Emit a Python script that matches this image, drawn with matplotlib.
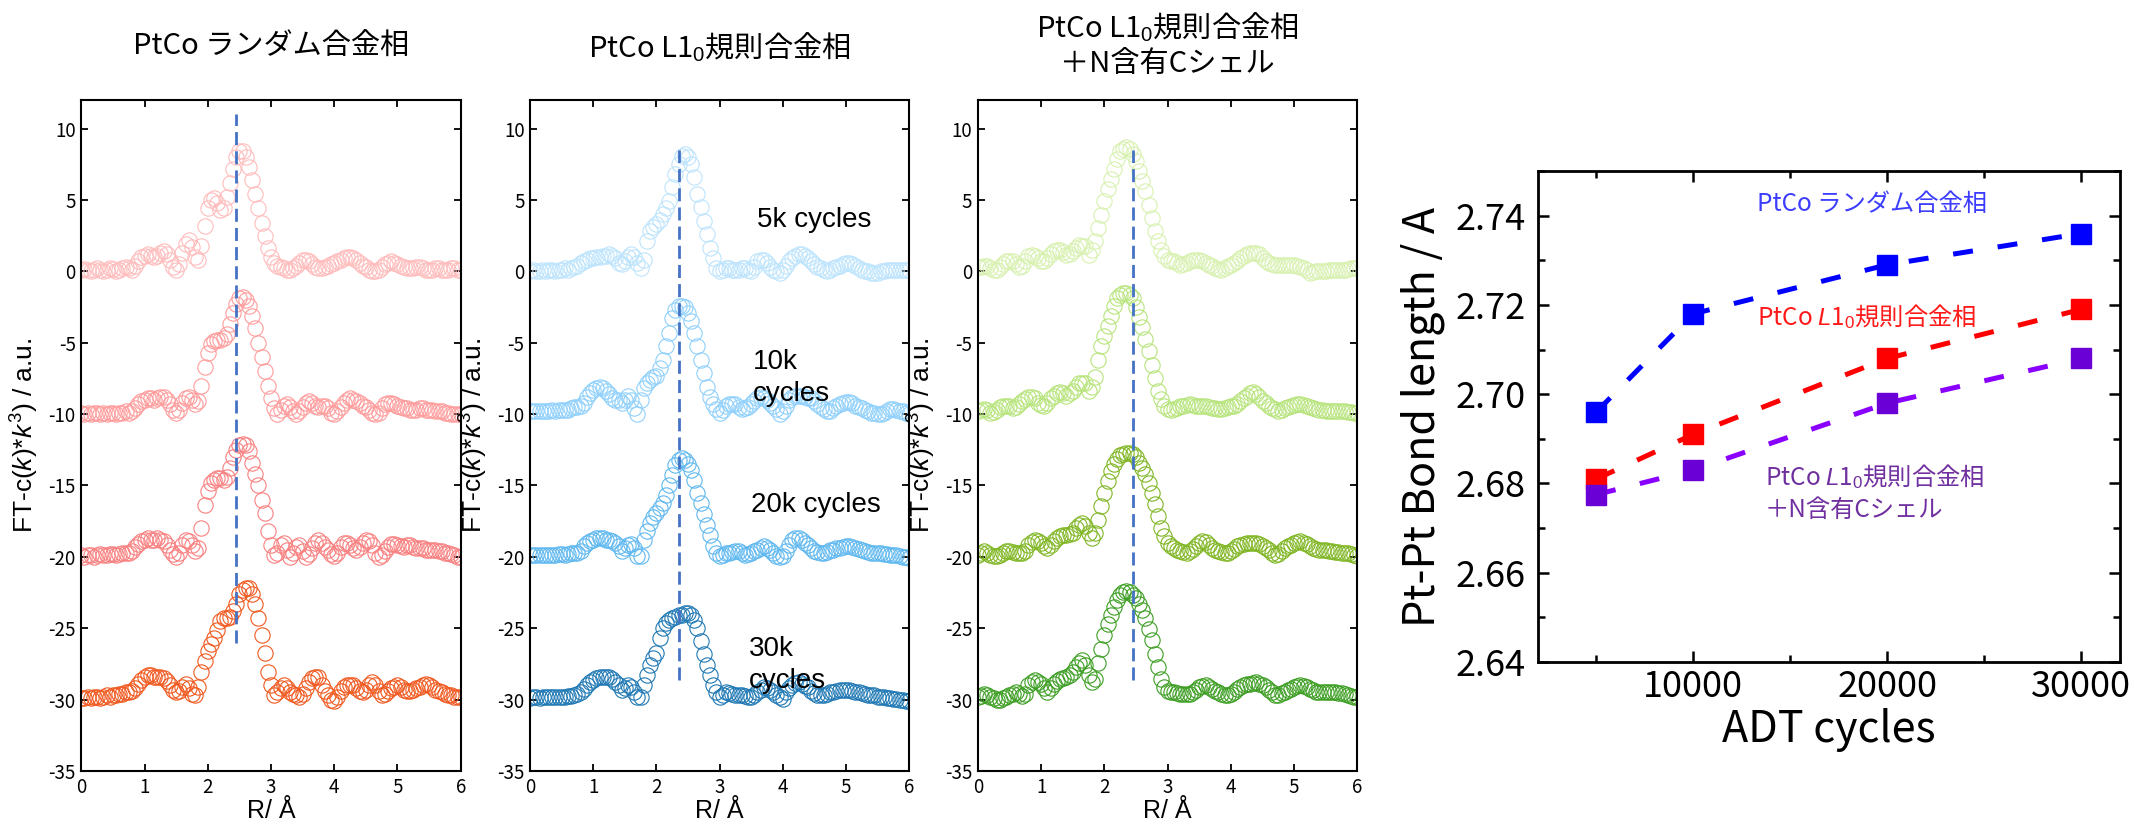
import numpy as np
import matplotlib
matplotlib.use("Agg")
import matplotlib.pyplot as plt
from matplotlib.ticker import MultipleLocator, FormatStrFormatter

plt.rcParams['font.family'] = ['Noto Sans CJK JP', 'DejaVu Sans']
plt.rcParams['mathtext.fontset'] = 'custom'
plt.rcParams['mathtext.rm'] = 'Liberation Sans'
plt.rcParams['mathtext.it'] = 'Liberation Sans:italic'
plt.rcParams['axes.unicode_minus'] = False

# ---------------------------------------------------------------
# FT-EXAFS magnitudes, R from 0 to 6 A in 0.05 A steps
# one row per 0.5 A, last value is R = 6.0
# ---------------------------------------------------------------
r = np.round(np.arange(121) * 0.05, 2)
offsets = [0, -10, -20, -30]
cycle_labels = ["5k cycles", "10k\ncycles", "20k cycles", "30k\ncycles"]

# PtCo random alloy
random_5k = [
    0.1, 0.15, 0.1, 0.0, 0.1, 0.2, 0.1, 0.0, 0.1, 0.2,
    0.15, 0.0, 0.1, 0.2, 0.3, 0.2, 0.1, 0.4, 0.7, 1.0,
    1.1, 1.2, 1.1, 1.0, 1.1, 1.3, 1.4, 1.2, 0.8, 0.3,
    0.1, 0.5, 1.3, 1.9, 2.2, 1.7, 1.0, 0.8, 1.8, 3.2,
    4.4, 5.0, 5.1, 4.8, 4.3, 4.4, 5.2, 6.2, 7.2, 8.0,
    8.4, 8.4, 8.0, 7.3, 6.4, 5.4, 4.4, 3.4, 2.5, 1.6,
    1.0, 0.6, 0.4, 0.3, 0.2, 0.1, 0.1, 0.2, 0.4, 0.6,
    0.8, 0.8, 0.7, 0.5, 0.3, 0.2, 0.2, 0.3, 0.4, 0.5,
    0.6, 0.7, 0.8, 0.9, 1.0, 1.0, 0.9, 0.8, 0.6, 0.4,
    0.3, 0.1, 0.0, 0.0, 0.1, 0.3, 0.5, 0.6, 0.7, 0.6,
    0.5, 0.4, 0.3, 0.2, 0.2, 0.2, 0.3, 0.3, 0.2, 0.1,
    0.1, 0.1, 0.2, 0.2, 0.1, 0.1, 0.1, 0.2, 0.2, 0.1,
    0.1]
random_10k = [
    0.1, 0.0, 0.1, 0.0, 0.1, 0.1, 0.0, 0.1, 0.0, 0.1,
    0.1, 0.0, 0.1, 0.1, 0.2, 0.1, 0.2, 0.4, 0.7, 0.9,
    1.0, 1.1, 1.1, 1.0, 1.1, 1.2, 1.2, 1.0, 0.7, 0.3,
    0.1, 0.3, 0.8, 1.1, 1.2, 1.0, 0.7, 0.9, 2.0, 3.3,
    4.3, 4.9, 5.1, 5.2, 5.2, 5.3, 5.6, 6.3, 7.1, 7.7,
    8.1, 8.2, 8.0, 7.6, 6.9, 6.0, 5.0, 4.0, 3.0, 2.0,
    1.1, 0.4, 0.0, 0.3, 0.6, 0.7, 0.5, 0.2, 0.0, 0.2,
    0.5, 0.8, 0.9, 0.8, 0.6, 0.5, 0.6, 0.6, 0.4, 0.1,
    0.0, 0.2, 0.5, 0.8, 1.0, 1.1, 1.0, 0.9, 0.8, 0.6,
    0.5, 0.3, 0.1, 0.0, 0.1, 0.4, 0.7, 0.8, 0.8, 0.7,
    0.6, 0.5, 0.4, 0.4, 0.3, 0.3, 0.3, 0.4, 0.4, 0.3,
    0.3, 0.3, 0.2, 0.2, 0.2, 0.1, 0.1, 0.0, 0.0, 0.0,
    0.0]
random_20k = [
    0.1, 0.0, 0.1, 0.1, 0.0, 0.1, 0.2, 0.1, 0.1, 0.2,
    0.2, 0.1, 0.2, 0.3, 0.3, 0.3, 0.4, 0.7, 0.9, 1.1,
    1.2, 1.3, 1.2, 1.2, 1.3, 1.2, 1.1, 0.8, 0.5, 0.2,
    0.0, 0.3, 0.8, 1.2, 1.1, 0.8, 0.4, 0.6, 2.0, 3.6,
    4.6, 5.2, 5.4, 5.5, 5.5, 5.4, 5.6, 6.2, 7.0, 7.5,
    7.8, 7.9, 7.8, 7.4, 6.6, 5.8, 5.0, 4.0, 3.1, 1.8,
    0.8, 0.1, 0.3, 0.8, 1.0, 0.5, 0.0, 0.3, 0.7, 0.8,
    0.4, 0.0, 0.2, 0.6, 1.0, 1.2, 1.0, 0.7, 0.5, 0.2,
    0.05, 0.3, 0.7, 1.0, 1.0, 0.8, 0.6, 0.5, 0.7, 1.0,
    1.2, 1.1, 0.8, 0.3, 0.0, 0.1, 0.4, 0.7, 0.9, 0.9,
    0.8, 0.75, 0.7, 0.8, 0.8, 0.7, 0.6, 0.6, 0.6, 0.5,
    0.5, 0.5, 0.5, 0.4, 0.4, 0.3, 0.3, 0.2, 0.1, 0.0,
    0.0]
random_30k = [
    0.1, 0.1, 0.2, 0.1, 0.2, 0.2, 0.1, 0.2, 0.3, 0.2,
    0.3, 0.3, 0.4, 0.4, 0.5, 0.5, 0.6, 0.8, 1.1, 1.4,
    1.6, 1.7, 1.7, 1.6, 1.6, 1.6, 1.5, 1.3, 1.0, 0.7,
    0.5, 0.6, 0.9, 1.1, 0.8, 0.4, 0.3, 0.9, 1.9, 2.7,
    3.4, 3.9, 4.3, 4.9, 5.5, 5.7, 5.7, 5.8, 6.2, 6.7,
    7.4, 7.7, 7.8, 7.8, 7.4, 6.7, 5.7, 4.5, 3.3, 1.9,
    1.0, 0.3, 0.5, 0.8, 1.0, 0.8, 0.5, 0.4, 0.3, 0.2,
    0.4, 0.8, 1.2, 1.5, 1.6, 1.6, 1.0, 0.6, 0.3, 0.0,
    -0.1, 0.2, 0.6, 0.9, 1.0, 1.0, 1.0, 0.8, 0.6, 0.5,
    0.7, 1.0, 1.2, 1.0, 0.6, 0.3, 0.4, 0.6, 0.8, 0.9,
    1.0, 0.9, 0.7, 0.6, 0.6, 0.7, 0.8, 0.9, 1.0, 1.1,
    1.0, 0.9, 0.7, 0.6, 0.5, 0.4, 0.3, 0.3, 0.2, 0.2,
    0.2]

# PtCo L1_0 ordered alloy
l10_5k = [
    0.0, 0.1, 0.0, 0.0, 0.1, 0.0, 0.1, 0.1, 0.0, 0.1,
    0.1, 0.2, 0.1, 0.2, 0.3, 0.4, 0.6, 0.7, 0.8, 0.9,
    0.9, 1.0, 1.0, 1.1, 1.1, 1.2, 1.1, 0.9, 0.6, 0.5,
    0.7, 1.0, 1.2, 1.0, 0.6, 0.2, 0.8, 2.1, 2.8, 3.1,
    3.3, 3.6, 4.0, 4.4, 4.9, 5.9, 6.8, 7.5, 8.1, 8.2,
    8.0, 7.5, 6.6, 5.4, 4.5, 3.5, 2.6, 1.6, 0.9, 0.2,
    0.0, 0.1, 0.2, 0.2, 0.1, 0.1, 0.1, 0.2, 0.2, 0.1,
    0.0, 0.3, 0.7, 0.8, 0.8, 0.6, 0.3, 0.1, 0.0, -0.1,
    0.1, 0.4, 0.7, 0.9, 1.1, 1.2, 1.2, 1.1, 0.9, 0.7,
    0.5, 0.3, 0.2, 0.1, 0.0, 0.1, 0.2, 0.3, 0.35, 0.5,
    0.6, 0.6, 0.5, 0.35, 0.2, 0.1, 0.0, 0.0, -0.1, -0.1,
    -0.1, 0.0, 0.0, 0.1, 0.1, 0.1, 0.1, 0.1, 0.1, 0.1,
    0.1]
l10_10k = [
    0.2, 0.2, 0.2, 0.2, 0.2, 0.2, 0.2, 0.3, 0.2, 0.3,
    0.3, 0.3, 0.3, 0.4, 0.5, 0.5, 0.6, 0.8, 1.2, 1.5,
    1.7, 1.8, 1.9, 1.8, 1.6, 1.4, 1.1, 1.0, 1.0, 0.8,
    1.0, 1.3, 1.0, 0.4, 0.0, 1.0, 1.8, 2.2, 2.4, 2.6,
    2.7, 3.2, 3.8, 4.8, 5.7, 6.7, 7.3, 7.6, 7.6, 7.5,
    7.1, 6.5, 5.7, 4.8, 3.8, 2.9, 1.9, 1.2, 0.7, 0.35,
    0.1, 0.3, 0.6, 0.7, 0.7, 0.7, 0.5, 0.35, 0.4, 0.5,
    0.7, 0.9, 1.1, 1.2, 1.1, 1.0, 0.8, 0.6, 0.35, 0.0,
    0.2, 0.6, 1.0, 1.2, 1.3, 1.3, 1.3, 1.2, 1.1, 1.1,
    0.9, 0.7, 0.5, 0.35, 0.25, 0.25, 0.4, 0.6, 0.7, 0.8,
    0.85, 0.85, 0.75, 0.6, 0.5, 0.4, 0.3, 0.2, 0.1, 0.05,
    0.0, 0.0, 0.1, 0.2, 0.35, 0.35, 0.3, 0.25, 0.2, 0.1,
    0.0]
l10_20k = [
    0.1, 0.1, 0.15, 0.1, 0.15, 0.15, 0.1, 0.15, 0.15, 0.2,
    0.2, 0.15, 0.2, 0.25, 0.3, 0.3, 0.4, 0.75, 1.0, 1.1,
    1.2, 1.3, 1.35, 1.3, 1.2, 1.15, 1.1, 0.95, 0.75, 0.4,
    0.65, 0.8, 0.9, 0.6, 0.05, 0.05, 1.2, 1.8, 2.4, 2.8,
    3.1, 3.4, 3.8, 4.3, 5.0, 5.7, 6.4, 6.8, 6.9, 6.8,
    6.5, 6.1, 5.4, 4.5, 3.8, 3.0, 2.2, 1.5, 0.75, 0.3,
    0.05, 0.15, 0.25, 0.3, 0.35, 0.4, 0.4, 0.3, 0.15, 0.2,
    0.3, 0.4, 0.5, 0.65, 0.75, 0.65, 0.5, 0.3, 0.05, 0.0,
    0.05, 0.4, 0.8, 1.2, 1.3, 1.35, 1.2, 1.0, 0.8, 0.6,
    0.4, 0.35, 0.3, 0.3, 0.35, 0.45, 0.5, 0.6, 0.65, 0.7,
    0.75, 0.75, 0.7, 0.65, 0.55, 0.5, 0.4, 0.35, 0.3, 0.3,
    0.3, 0.25, 0.2, 0.2, 0.15, 0.15, 0.1, 0.05, 0.0, 0.0,
    -0.05]
l10_30k = [
    0.1, 0.15, 0.15, 0.1, 0.15, 0.15, 0.15, 0.2, 0.15, 0.2,
    0.2, 0.2, 0.25, 0.25, 0.3, 0.4, 0.5, 0.75, 1.0, 1.2,
    1.35, 1.5, 1.6, 1.6, 1.6, 1.55, 1.45, 1.25, 1.0, 0.65,
    0.8, 1.0, 0.9, 0.5, 0.15, 0.15, 1.0, 1.7, 2.4, 2.9,
    3.3, 4.3, 5.0, 5.35, 5.6, 5.7, 5.8, 5.9, 5.95, 6.05,
    6.05, 5.95, 5.6, 5.0, 4.1, 3.2, 2.4, 1.7, 1.0, 0.5,
    0.15, 0.35, 0.5, 0.45, 0.4, 0.35, 0.3, 0.3, 0.25, 0.2,
    0.15, 0.3, 0.5, 0.7, 0.85, 0.8, 0.65, 0.5, 0.3, 0.15,
    0.05, 0.5, 0.8, 1.0, 1.15, 1.2, 1.1, 0.95, 0.85, 0.6,
    0.45, 0.3, 0.3, 0.35, 0.4, 0.5, 0.55, 0.6, 0.65, 0.65,
    0.65, 0.65, 0.6, 0.55, 0.5, 0.45, 0.4, 0.35, 0.3, 0.3,
    0.2, 0.15, 0.15, 0.1, 0.1, 0.05, 0.05, 0.0, -0.05, -0.1,
    -0.1]

# PtCo L1_0 ordered alloy + N-doped carbon shell
shell_5k = [
    0.3, 0.3, 0.35, 0.35, 0.25, 0.1, 0.1, 0.3, 0.5, 0.7,
    0.7, 0.7, 0.5, 0.3, 0.35, 0.7, 1.05, 1.15, 1.1, 0.9,
    0.75, 0.7, 0.9, 1.2, 1.4, 1.5, 1.5, 1.35, 1.15, 1.2,
    1.4, 1.65, 1.85, 1.8, 1.75, 1.15, 1.5, 2.1, 3.0, 3.95,
    4.9, 5.8, 6.5, 7.2, 7.9, 8.4, 8.6, 8.7, 8.6, 8.25,
    7.7, 7.0, 6.3, 5.6, 4.65, 3.7, 2.8, 2.1, 1.5, 1.05,
    0.8, 0.75, 0.7, 0.6, 0.45, 0.5, 0.6, 0.7, 0.8, 0.8,
    0.8, 0.75, 0.6, 0.45, 0.35, 0.25, 0.15, 0.1, 0.2, 0.35,
    0.45, 0.6, 0.75, 0.9, 1.05, 1.2, 1.3, 1.3, 1.3, 1.2,
    0.9, 0.75, 0.6, 0.5, 0.45, 0.45, 0.45, 0.45, 0.45, 0.45,
    0.45, 0.4, 0.3, 0.25, 0.1, -0.1, -0.05, 0.0, 0.0, 0.05,
    0.05, 0.1, 0.1, 0.1, 0.1, 0.1, 0.1, 0.15, 0.2, 0.2,
    0.25]
shell_10k = [
    0.25, 0.3, 0.35, 0.3, 0.1, 0.15, 0.3, 0.5, 0.6, 0.6,
    0.55, 0.45, 0.5, 0.7, 0.9, 1.05, 1.2, 1.2, 1.1, 0.8,
    0.65, 0.6, 0.8, 1.1, 1.3, 1.45, 1.55, 1.45, 1.3, 1.45,
    1.65, 1.9, 2.15, 2.15, 2.15, 1.65, 1.9, 2.6, 3.8, 4.75,
    5.5, 6.2, 6.9, 7.6, 8.1, 8.35, 8.45, 8.45, 8.35, 8.1,
    7.5, 6.8, 6.1, 5.25, 4.4, 3.45, 2.5, 1.65, 1.05, 0.6,
    0.35, 0.3, 0.35, 0.45, 0.55, 0.6, 0.65, 0.7, 0.65, 0.6,
    0.6, 0.55, 0.55, 0.5, 0.45, 0.4, 0.35, 0.35, 0.4, 0.5,
    0.55, 0.6, 0.7, 0.9, 1.1, 1.3, 1.45, 1.55, 1.4, 1.2,
    0.95, 0.8, 0.6, 0.45, 0.35, 0.25, 0.3, 0.4, 0.5, 0.6,
    0.65, 0.7, 0.7, 0.65, 0.6, 0.5, 0.45, 0.35, 0.3, 0.3,
    0.25, 0.25, 0.25, 0.25, 0.25, 0.2, 0.2, 0.15, 0.15, 0.1,
    0.1]
shell_20k = [
    0.15, 0.3, 0.4, 0.3, 0.15, 0.05, 0.05, 0.15, 0.3, 0.4,
    0.4, 0.35, 0.3, 0.25, 0.25, 0.4, 0.85, 1.05, 1.2, 1.1,
    0.95, 0.75, 0.6, 0.8, 1.1, 1.3, 1.45, 1.5, 1.55, 1.6,
    1.7, 2.05, 2.25, 2.4, 2.15, 1.7, 1.35, 1.7, 2.6, 3.55,
    4.5, 5.3, 6.0, 6.5, 6.85, 7.1, 7.2, 7.3, 7.3, 7.2,
    7.0, 6.6, 6.25, 5.8, 5.2, 4.5, 3.7, 2.85, 2.05, 1.45,
    0.95, 0.75, 0.6, 0.5, 0.4, 0.35, 0.3, 0.4, 0.55, 0.75,
    0.95, 1.1, 1.05, 0.85, 0.65, 0.5, 0.4, 0.35, 0.3, 0.3,
    0.4, 0.55, 0.75, 0.85, 0.9, 0.95, 0.95, 0.95, 0.95, 0.9,
    0.75, 0.6, 0.45, 0.3, 0.15, 0.2, 0.4, 0.6, 0.75, 0.85,
    0.95, 1.05, 1.1, 1.0, 0.9, 0.75, 0.65, 0.55, 0.5, 0.45,
    0.45, 0.4, 0.4, 0.35, 0.35, 0.3, 0.3, 0.25, 0.2, 0.1,
    0.05]
shell_30k = [
    0.15, 0.25, 0.4, 0.3, 0.2, 0.1, 0.0, -0.05, 0.1, 0.2,
    0.3, 0.4, 0.5, 0.4, 0.25, 0.4, 1.0, 1.2, 1.35, 1.25,
    1.1, 0.8, 0.5, 0.8, 1.1, 1.3, 1.45, 1.5, 1.55, 1.7,
    1.9, 2.3, 2.6, 2.75, 2.4, 1.7, 1.2, 1.45, 2.6, 3.55,
    4.5, 5.3, 5.9, 6.5, 6.95, 7.3, 7.55, 7.6, 7.55, 7.3,
    7.1, 6.7, 6.25, 5.7, 4.95, 4.15, 3.2, 2.3, 1.45, 0.85,
    0.6, 0.55, 0.5, 0.45, 0.4, 0.4, 0.4, 0.4, 0.5, 0.7,
    0.85, 0.95, 1.0, 0.9, 0.75, 0.6, 0.5, 0.4, 0.35, 0.3,
    0.4, 0.55, 0.75, 0.9, 1.0, 1.1, 1.1, 1.15, 1.2, 1.1,
    1.0, 0.85, 0.7, 0.5, 0.3, 0.35, 0.45, 0.5, 0.65, 0.75,
    0.85, 0.95, 1.0, 0.95, 0.85, 0.75, 0.65, 0.55, 0.5, 0.5,
    0.5, 0.5, 0.5, 0.5, 0.45, 0.45, 0.4, 0.35, 0.25, 0.2,
    0.15]

# Pt-Pt bond length vs ADT cycles
adt_cycles = [5000, 10000, 20000, 30000]
bond_random = [2.696, 2.718, 2.729, 2.736]
bond_l10 = [2.681, 2.691, 2.708, 2.719]
bond_l10_shell = [2.6775, 2.683, 2.698, 2.708]

panels = [
    dict(title="PtCo ランダム合金相",
         curves=[random_5k, random_10k, random_20k, random_30k],
         colors=["#ffbcbc", "#ff9c9c", "#f98080", "#f0581e"],
         ref_r=2.45, ref_span=(-26.0, 11.0), rect=[0.0381, 0.0677, 0.1778, 0.8114]),
    dict(title="PtCo L1$_0$規則合金相",
         curves=[l10_5k, l10_10k, l10_20k, l10_30k],
         colors=["#bde4fd", "#8fd0fc", "#5fb8f0", "#1f78b4"],
         ref_r=2.36, ref_span=(-28.6, 8.5), rect=[0.2484, 0.0677, 0.1776, 0.8114]),
    dict(title="PtCo L1$_0$規則合金相\n＋N含有Cシェル",
         curves=[shell_5k, shell_10k, shell_20k, shell_30k],
         colors=["#d8f1b0", "#b7e47c", "#80b624", "#3c9e22"],
         ref_r=2.45, ref_span=(-28.6, 8.5), rect=[0.4582, 0.0677, 0.1779, 0.8114]),
]

fig = plt.figure(figsize=(21.34, 8.27), dpi=100)

for i, p in enumerate(panels):
    ax = fig.add_axes(p["rect"])
    for curve, off, color in zip(p["curves"], offsets, p["colors"]):
        y = np.asarray(curve) + off
        ax.plot(r, y, linestyle="none", marker="o", markersize=11,
                markerfacecolor="none", markeredgecolor=color,
                markeredgewidth=0.8)
    ax.plot([p["ref_r"], p["ref_r"]], p["ref_span"], color="#4472c4",
            lw=2.0, dashes=(4.7, 2.2), zorder=5)

    ax.set_xlim(0, 6)
    ax.set_ylim(-35, 12)
    ax.xaxis.set_major_locator(MultipleLocator(1))
    ax.yaxis.set_major_locator(MultipleLocator(5))
    ax.tick_params(direction="in", length=5, width=1.3, top=True, right=True,
                   labelsize=13.5, pad=4)
    for s in ax.spines.values():
        s.set_linewidth(1.5)
    ax.set_xlabel("R/ Å", fontsize=18, labelpad=1, family="Liberation Sans")
    ax.set_ylabel("FT-c($k$)*$k^3$) / a.u.", fontsize=19,
                  family="Liberation Sans")
    ax.yaxis.set_label_coords(-0.105, 0.5)

    x0, _, w, h = p["rect"]
    title_y = 0.943 if "\n" not in p["title"] else 0.946
    fig.text(x0 + w / 2, title_y, p["title"], ha="center", va="center",
             fontsize=21, linespacing=1.2)

    if i == 1:
        label_pos = [(3.6, 3.6), (3.53, -7.45), (3.49, -16.4), (3.47, -27.6)]
        for text, (tx, ty) in zip(cycle_labels, label_pos):
            ax.text(tx, ty, text, ha="left", va="center", fontsize=20,
                    family="Liberation Sans", linespacing=1.3, zorder=6)

# bond length panel
bx = fig.add_axes([0.7207, 0.1995, 0.2727, 0.5937])
series = [
    (bond_random, "#0000ff", "#0000ff"),
    (bond_l10, "#ff0000", "#ff0000"),
    (bond_l10_shell, "#8a00ff", "#6a00d6"),
]
for vals, lcolor, mcolor in series:
    bx.plot(adt_cycles, vals, color=lcolor, lw=3.6, dashes=(4.0, 5.0),
            marker="s", markersize=14, markerfacecolor=mcolor,
            markeredgecolor=mcolor)

bx.set_xlim(2000, 32000)
bx.set_ylim(2.64, 2.75)
bx.set_xticks([10000, 20000, 30000])
bx.xaxis.set_minor_locator(MultipleLocator(5000))
bx.yaxis.set_major_locator(MultipleLocator(0.02))
bx.yaxis.set_minor_locator(MultipleLocator(0.01))
bx.yaxis.set_major_formatter(FormatStrFormatter("%.2f"))
bx.tick_params(which="both", direction="in", top=True, right=True, width=1.8)
bx.tick_params(which="major", length=8, labelsize=26, pad=9)
bx.tick_params(which="minor", length=5)
bx.tick_params(axis="x", which="major", pad=5)
for s in bx.spines.values():
    s.set_linewidth(2.0)
bx.set_xlabel("ADT cycles", fontsize=31, labelpad=2)
bx.set_ylabel("Pt-Pt Bond length / A", fontsize=31)
bx.yaxis.set_label_coords(-0.16, 0.5)

bx.text(13290, 2.7426, "PtCo ランダム合金相", color="#3d3dff", fontsize=17.5,
        ha="left", va="center")
bx.text(13290, 2.7173, "PtCo $L$1$_0$規則合金相", color="#ff1a1a", fontsize=17.5,
        ha="left", va="center")
bx.text(13700, 2.678, "PtCo $L$1$_0$規則合金相\n＋N含有Cシェル", color="#7030a0",
        fontsize=17.5, ha="left", va="center", linespacing=1.3)

fig.savefig("out.png", dpi=100)
